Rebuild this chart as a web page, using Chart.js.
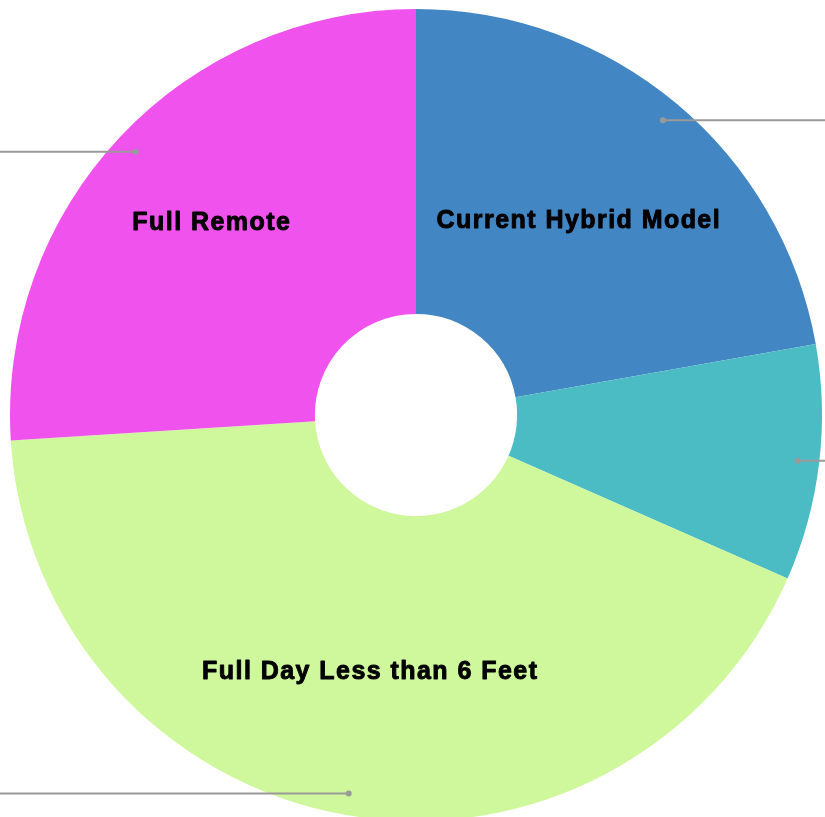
<!DOCTYPE html>
<html>
<head>
<meta charset="utf-8">
<script src="https://cdn.jsdelivr.net/npm/chart.js@4.4.0/dist/chart.umd.min.js"></script>
<style>
  html, body { margin: 0; padding: 0; background: #fff; overflow: hidden; }
  #wrap { position: absolute; left: 0; top: 0; width: 832px; height: 830px; }
</style>
</head>
<body>
<div id="wrap"><canvas id="chart" width="832" height="830"></canvas></div>
<script>
// slices, clockwise from 12 o'clock
const categories = ['Current Hybrid Model', 'Half Day', 'Full Day Less than 6 Feet', 'Full Remote'];
const shares = [22.2, 9.4, 42.4, 26.0];
const sliceColors = ['#4286C4', '#4CBCC4', '#CFF79B', '#F052EE'];

// how far out (0 = hole, 1 = rim) each inside label sits
const labelRadius = [0.50, 0.50, 0.526, 0.587];

const sliceLabels = {
    id: 'sliceLabels',
    afterDatasetsDraw(chart) {
        const ctx = chart.ctx;
        const arcs = chart.getDatasetMeta(0).data;
        ctx.save();

        // leader lines (their outside labels fall off the picture)
        arcs.forEach(arc => {
            const p = arc.getProps(['x', 'y', 'startAngle', 'endAngle', 'outerRadius'], true);
            const mid = (p.startAngle + p.endAngle) / 2;
            const r = p.outerRadius * 0.947;
            const dx = p.x + Math.cos(mid) * r;
            const dy = p.y + Math.sin(mid) * r;
            const toX = Math.cos(mid) >= 0 ? chart.width : 0;
            ctx.strokeStyle = '#9a9a9a';
            ctx.lineWidth = 2;
            ctx.beginPath();
            ctx.moveTo(dx, dy);
            ctx.lineTo(toX, dy);
            ctx.stroke();
            ctx.fillStyle = '#9a9a9a';
            ctx.beginPath();
            ctx.arc(dx, dy, 3, 0, Math.PI * 2);
            ctx.fill();
        });

        // inside labels, only where the slice is big enough
        ctx.font = 'bold 25px "Liberation Sans", Arial, sans-serif';
        ctx.letterSpacing = '1.45px';
        ctx.fillStyle = '#000';
        ctx.strokeStyle = '#000';
        ctx.lineWidth = 0.9;
        ctx.lineJoin = 'round';
        ctx.textAlign = 'center';
        ctx.textBaseline = 'middle';
        arcs.forEach((arc, i) => {
            if (shares[i] < 15) return;
            const p = arc.getProps(['x', 'y', 'startAngle', 'endAngle', 'innerRadius', 'outerRadius'], true);
            const mid = (p.startAngle + p.endAngle) / 2;
            const r = p.innerRadius + (p.outerRadius - p.innerRadius) * labelRadius[i];
            const tx = p.x + Math.cos(mid) * r;
            const ty = p.y + Math.sin(mid) * r;
            ctx.fillText(categories[i], tx, ty);
            ctx.strokeText(categories[i], tx, ty);
        });
        ctx.restore();
    }
};

new Chart(document.getElementById('chart'), {
    type: 'doughnut',
    data: {
        labels: categories,
        datasets: [{
            data: shares,
            backgroundColor: sliceColors,
            borderWidth: 0
        }]
    },
    options: {
        responsive: false,
        animation: false,
        cutout: '24.9%',
        layout: { padding: { left: 10, right: 10, top: 9, bottom: 9 } },
        plugins: {
            legend: { display: false },
            tooltip: { enabled: false }
        }
    },
    plugins: [sliceLabels]
});
</script>
</body>
</html>
